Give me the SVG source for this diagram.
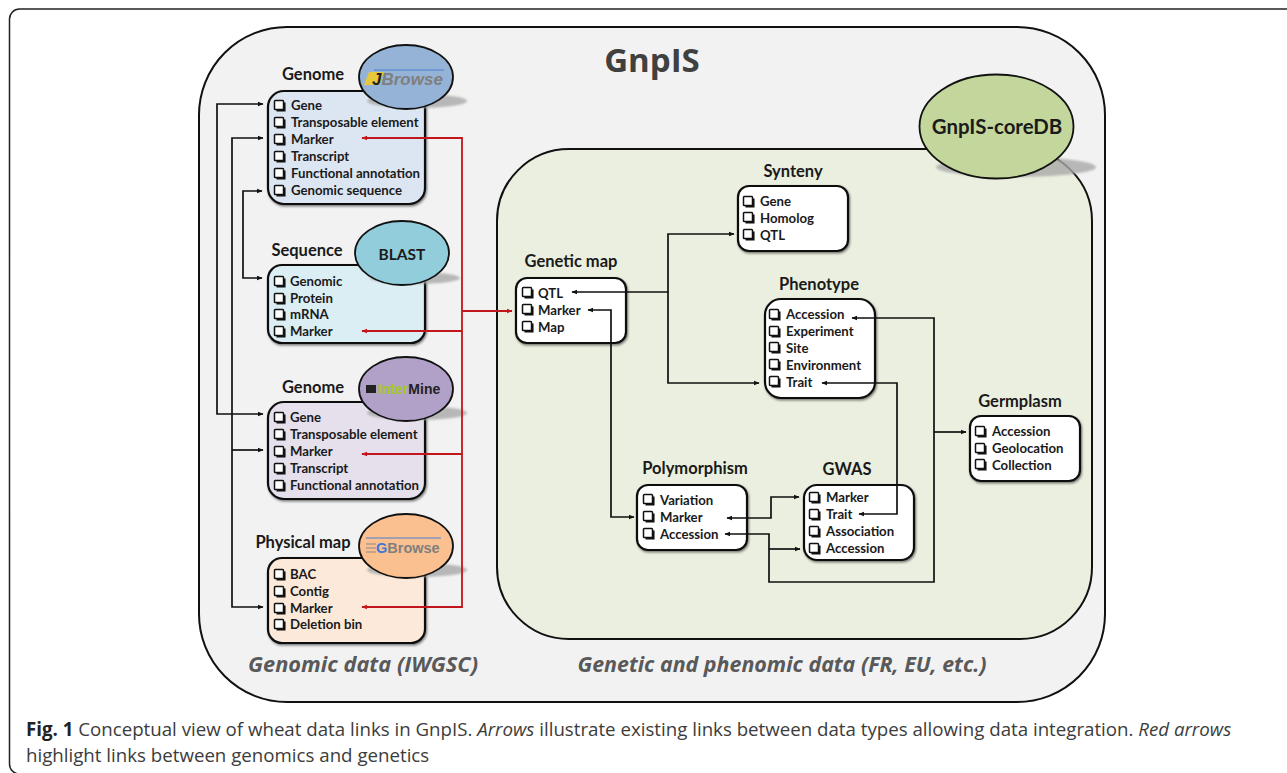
<svg xmlns="http://www.w3.org/2000/svg" width="1287" height="773" viewBox="0 0 1287 773">
<style>
text{font-family:"Open Sans","Noto Sans","Liberation Sans",sans-serif}
.i{font-family:Lato,"Open Sans",sans-serif;font-size:13.2px;font-weight:700;fill:#1a1a1a}
.t{font-family:Lato,"Open Sans",sans-serif;font-size:16.5px;font-weight:700;fill:#1a1a1a;text-anchor:middle}
.g{font-size:21.5px;font-weight:700;font-style:italic;fill:#595959;text-anchor:middle}
.c{font-size:18.7px;fill:#3c3c3c}
.box{stroke:#111;stroke-width:2.2}
.e{stroke:#111;stroke-width:1.8}
.k{fill:none;stroke:#111;stroke-width:1.7}
.s{fill:#a9a9a9;opacity:.8;filter:url(#bl)}
.cb{fill:#fff;stroke:#111;stroke-width:1.5}
.r{fill:none;stroke:#c3161c;stroke-width:1.8}
.lg{font-family:"Liberation Sans",sans-serif;font-weight:700}
</style>
<defs>
<marker id="a" viewBox="0 0 10 10" refX="9" refY="5" markerWidth="6" markerHeight="6" markerUnits="userSpaceOnUse" orient="auto-start-reverse"><path d="M0 1L10 5L0 9Z" fill="#111"/></marker>
<marker id="ar" viewBox="0 0 10 10" refX="9" refY="5" markerWidth="6" markerHeight="6" markerUnits="userSpaceOnUse" orient="auto-start-reverse"><path d="M0 1L10 5L0 9Z" fill="#c3161c"/></marker>
<filter id="sh" x="-10%" y="-10%" width="120%" height="120%"><feDropShadow dx="1" dy="1.500" stdDeviation="1" flood-color="#000" flood-opacity=".5"/></filter>
<filter id="bl" x="-10%" y="-30%" width="120%" height="160%"><feGaussianBlur stdDeviation="1"/></filter>
<g id="cb"><path d="M1.500 9.700H9.700V1.500" fill="none" stroke="#111" stroke-width="1.700"/><rect class="cb" x="-.5" y="-.5" width="9" height="9" rx=".8"/></g>
</defs>
<rect x="9.500" y="9" width="1300" height="765" rx="10" fill="#fff" stroke="#222" stroke-width="1.500"/>
<rect id="frame" x="199" y="27" width="906" height="675" rx="88" fill="#f2f2f2" stroke="#111" stroke-width="2"/>
<text x="652" y="72" style="font-size:33px;font-weight:700;fill:#404040;text-anchor:middle">GnpIS</text>
<g id="core"><rect x="497" y="149" width="595" height="490" rx="72" fill="#ebefdf" stroke="#111" stroke-width="2"/></g>
<g id="genomic-label"><text class="g" x="363" y="672" style="font-size:21.800px">Genomic data (IWGSC)</text></g>
<g id="genetic-label"><text class="g" x="782" y="672" style="font-size:21.400px">Genetic and phenomic data (FR, EU, etc.)</text></g>

<g id="n-genome1"><text class="t" x="313" y="80">Genome</text><rect class="box" x="268" y="91" width="157" height="113" rx="16" fill="#dce6f2" filter="url(#sh)"/>
<use href="#cb" x="275" y="101"/><text class="i" x="291" y="110">Gene</text>
<use href="#cb" x="275" y="118"/><text class="i" x="291" y="127">Transposable element</text>
<use href="#cb" x="275" y="135"/><text class="i" x="291" y="144">Marker</text>
<use href="#cb" x="275" y="152"/><text class="i" x="291" y="161">Transcript</text>
<use href="#cb" x="275" y="169"/><text class="i" x="291" y="178">Functional annotation</text>
<use href="#cb" x="275" y="186"/><text class="i" x="291" y="195">Genomic sequence</text>
<ellipse class="s" cx="417" cy="101" rx="50" ry="7"/><ellipse class="e" cx="406" cy="77" rx="47" ry="32" fill="#95b3d7"/>
<path d="M369 72H384L379 85H364Z" fill="#e6c83c"/><path d="M374 70H444" stroke="#4a7ed0" stroke-width="1"/><text class="lg" x="372" y="85" style="font-size:17px;font-style:italic;fill:#222">J<tspan fill="#7f7f7f">Browse</tspan></text></g>

<g id="n-sequence"><text class="t" x="307" y="256">Sequence</text><rect class="box" x="268" y="265" width="157" height="78" rx="14" fill="#dbeef4" filter="url(#sh)"/>
<use href="#cb" x="275" y="277"/><text class="i" x="290" y="286">Genomic</text>
<use href="#cb" x="275" y="294"/><text class="i" x="290" y="303">Protein</text>
<use href="#cb" x="275" y="310"/><text class="i" x="290" y="319">mRNA</text>
<use href="#cb" x="275" y="327"/><text class="i" x="290" y="336">Marker</text>
<ellipse class="s" cx="415" cy="278" rx="45" ry="6"/><ellipse class="e" cx="402" cy="253" rx="47" ry="32" fill="#92cddc"/><text x="402" y="260" style="font-family:Lato,sans-serif;font-size:15.500px;font-weight:700;fill:#1a1a1a;text-anchor:middle">BLAST</text></g>

<g id="n-genome2"><text class="t" x="313" y="393">Genome</text><rect class="box" x="268" y="402" width="157" height="97" rx="16" fill="#e5e0ec" filter="url(#sh)"/>
<use href="#cb" x="275" y="413"/><text class="i" x="290" y="422">Gene</text>
<use href="#cb" x="275" y="430"/><text class="i" x="290" y="439">Transposable element</text>
<use href="#cb" x="275" y="447"/><text class="i" x="290" y="456">Marker</text>
<use href="#cb" x="275" y="464"/><text class="i" x="290" y="473">Transcript</text>
<use href="#cb" x="275" y="481"/><text class="i" x="290" y="490">Functional annotation</text>
<ellipse class="s" cx="417" cy="413" rx="50" ry="7"/><ellipse class="e" cx="406" cy="389" rx="47" ry="32" fill="#b1a0c7"/>
<rect x="366" y="385" width="10" height="8" fill="#222"/><text class="lg" x="378" y="394" style="font-size:14px;fill:#a5c91e">Inter<tspan fill="#222">Mine</tspan></text></g>

<g id="n-physical"><text class="t" x="303" y="548">Physical map</text><rect class="box" x="268" y="558" width="157" height="85" rx="14" fill="#fde9d9" filter="url(#sh)"/>
<use href="#cb" x="275" y="570"/><text class="i" x="290" y="579">BAC</text>
<use href="#cb" x="275" y="587"/><text class="i" x="290" y="596">Contig</text>
<use href="#cb" x="275" y="604"/><text class="i" x="290" y="613">Marker</text>
<use href="#cb" x="275" y="620"/><text class="i" x="290" y="629">Deletion bin</text>
<ellipse class="s" cx="417" cy="570" rx="50" ry="7"/><ellipse class="e" cx="406" cy="546" rx="47" ry="32" fill="#fac090"/>
<path d="M366 538H441" stroke="#4a7ed0" stroke-width="1"/><path d="M366 544H376M366 548H376M366 552H376" stroke="#888" stroke-width="1"/><text class="lg" x="376" y="553" style="font-size:14.500px;fill:#3b78d8">G<tspan fill="#7f7f7f">Browse</tspan></text></g>

<g id="n-coredb"><ellipse class="s" cx="1016" cy="167" rx="80" ry="10"/><ellipse class="e" cx="996.500" cy="126.500" rx="77" ry="52" fill="#c3d69b"/><text x="997" y="134" style="font-family:Lato,sans-serif;font-size:20.400px;font-weight:700;fill:#1a1a1a;text-anchor:middle">GnpIS-coreDB</text></g>

<g id="n-synteny"><text class="t" x="793" y="177">Synteny</text><rect class="box" x="738" y="186" width="110" height="65" rx="11" fill="#fff" filter="url(#sh)"/>
<use href="#cb" x="744" y="197"/><text class="i" x="760" y="206">Gene</text>
<use href="#cb" x="744" y="213"/><text class="i" x="760" y="223">Homolog</text>
<use href="#cb" x="744" y="230"/><text class="i" x="760" y="240">QTL</text></g>

<g id="n-geneticmap"><text class="t" x="571" y="267">Genetic map</text><rect class="box" x="516" y="278" width="110" height="65" rx="11" fill="#fff" filter="url(#sh)"/>
<use href="#cb" x="523" y="288"/><text class="i" x="538" y="298">QTL</text>
<use href="#cb" x="523" y="305"/><text class="i" x="538" y="315">Marker</text>
<use href="#cb" x="523" y="322"/><text class="i" x="538" y="332">Map</text></g>

<g id="n-phenotype"><text class="t" x="819" y="290">Phenotype</text><rect class="box" x="765" y="299" width="110" height="99" rx="16" fill="#fff" filter="url(#sh)"/>
<use href="#cb" x="770" y="310"/><text class="i" x="786" y="319">Accession</text>
<use href="#cb" x="770" y="327"/><text class="i" x="786" y="336">Experiment</text>
<use href="#cb" x="770" y="343"/><text class="i" x="786" y="353">Site</text>
<use href="#cb" x="770" y="360"/><text class="i" x="786" y="370">Environment</text>
<use href="#cb" x="770" y="377"/><text class="i" x="786" y="387">Trait</text></g>

<g id="n-germplasm"><text class="t" x="1020" y="407">Germplasm</text><rect class="box" x="970" y="416" width="110" height="65" rx="11" fill="#fff" filter="url(#sh)"/>
<use href="#cb" x="976" y="427"/><text class="i" x="992" y="436">Accession</text>
<use href="#cb" x="976" y="444"/><text class="i" x="992" y="453">Geolocation</text>
<use href="#cb" x="976" y="460"/><text class="i" x="992" y="470">Collection</text></g>

<g id="n-polymorphism"><text class="t" x="695" y="474">Polymorphism</text><rect class="box" x="637" y="485" width="110" height="65" rx="11" fill="#fff" filter="url(#sh)"/>
<use href="#cb" x="644" y="495"/><text class="i" x="660" y="505">Variation</text>
<use href="#cb" x="644" y="512"/><text class="i" x="660" y="522">Marker</text>
<use href="#cb" x="644" y="529"/><text class="i" x="660" y="539">Accession</text></g>

<g id="n-gwas"><text class="t" x="847" y="475">GWAS</text><rect class="box" x="804" y="485" width="110" height="75" rx="13" fill="#fff" filter="url(#sh)"/>
<use href="#cb" x="810" y="493"/><text class="i" x="826" y="502">Marker</text>
<use href="#cb" x="810" y="510"/><text class="i" x="826" y="519">Trait</text>
<use href="#cb" x="810" y="527"/><text class="i" x="826" y="536">Association</text>
<use href="#cb" x="810" y="544"/><text class="i" x="826" y="553">Accession</text></g>

<g id="connectors">
<path class="k" d="M263 104H217V414H263" marker-start="url(#a)" marker-end="url(#a)"/>
<path class="k" d="M263 138H232V607H263" marker-start="url(#a)" marker-end="url(#a)"/>
<path class="k" d="M232 450H263" marker-end="url(#a)"/>
<path class="k" d="M262 191H243V278H262" marker-start="url(#a)" marker-end="url(#a)"/>
<path class="r" d="M362 138H462V607H362" marker-start="url(#ar)" marker-end="url(#ar)"/>
<path class="r" d="M362 331H462" marker-start="url(#ar)"/>
<path class="r" d="M362 454H462" marker-start="url(#ar)"/>
<path class="r" d="M462 311H512" marker-end="url(#ar)"/>
<path class="k" d="M572 292H668V234H734" marker-start="url(#a)" marker-end="url(#a)"/>
<path class="k" d="M668 292V383H759" marker-end="url(#a)"/>
<path class="k" d="M588 310H611V517H634" marker-start="url(#a)" marker-end="url(#a)"/>
<path class="k" d="M852 318H934V582H769V534H725" marker-start="url(#a)" marker-end="url(#a)"/>
<path class="k" d="M769 549H800" marker-end="url(#a)"/>
<path class="k" d="M934 432H966" marker-end="url(#a)"/>
<path class="k" d="M822 383H897V514H859" marker-start="url(#a)" marker-end="url(#a)"/>
<path class="k" d="M727 518H771V497H799" marker-start="url(#a)" marker-end="url(#a)"/>
</g>
<g id="caption">
<text class="c" x="26" y="736"><tspan font-weight="700" fill="#222">Fig. 1</tspan> Conceptual view of wheat data links in GnpIS. <tspan font-style="italic">Arrows</tspan> illustrate existing links between data types allowing data integration. <tspan font-style="italic">Red arrows</tspan></text>
<text class="c" x="26" y="762">highlight links between genomics and genetics</text>
</g>
</svg>
